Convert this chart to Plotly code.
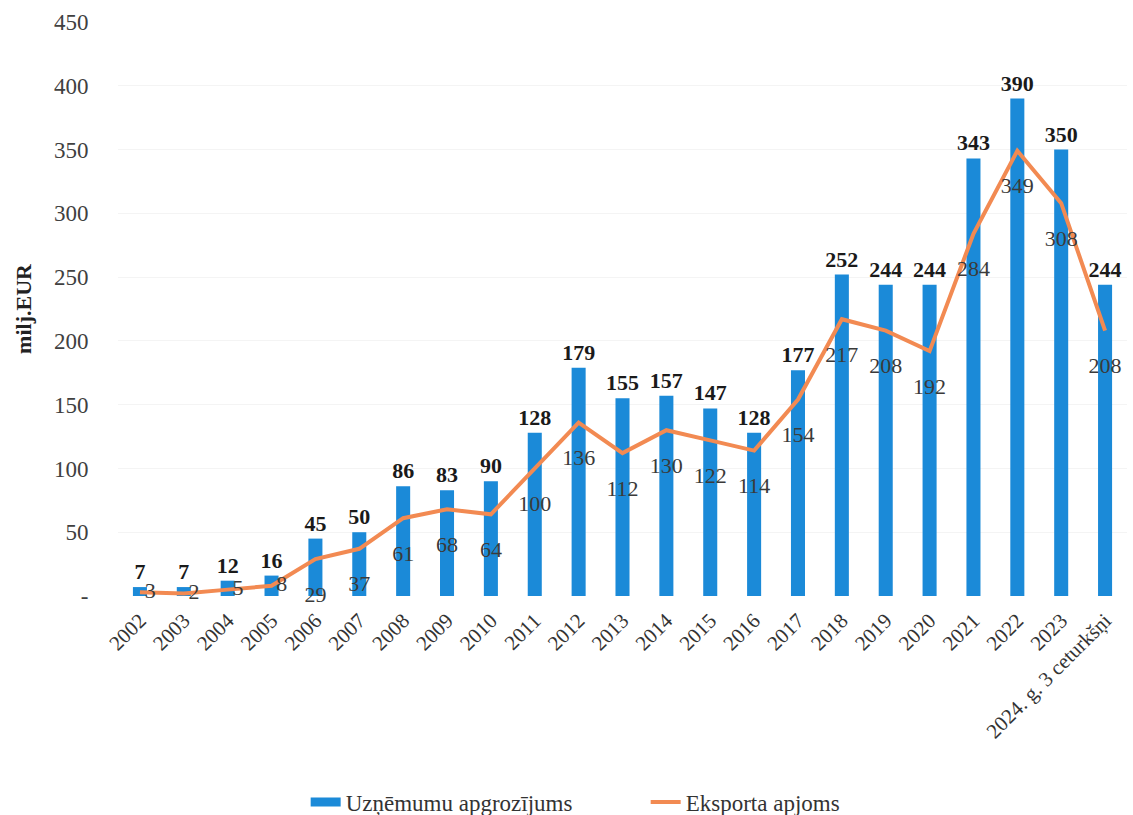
import plotly.graph_objects as go

categories = ["2002", "2003", "2004", "2005", "2006", "2007", "2008", "2009", "2010",
              "2011", "2012", "2013", "2014", "2015", "2016", "2017", "2018", "2019",
              "2020", "2021", "2022", "2023", "2024. g. 3 ceturkšņi"]
turnover = [7, 7, 12, 16, 45, 50, 86, 83, 90, 128, 179, 155, 157, 147, 128, 177,
            252, 244, 244, 343, 390, 350, 244]
exports = [3, 2, 5, 8, 29, 37, 61, 68, 64, 100, 136, 112, 130, 122, 114, 154,
           217, 208, 192, 284, 349, 308, 208]
y_ticks = [0, 50, 100, 150, 200, 250, 300, 350, 400, 450]
y_tick_labels = ["-", "50", "100", "150", "200", "250", "300", "350", "400", "450"]

FONT = "Liberation Serif"
BAR_COLOR = "#1B8AD8"
LINE_COLOR = "#F28A52"

# labels of very small values sit beside the point (clamped to the plot area)
label_pos = ["middle right" if v < 10 else "bottom center" for v in exports]
label_pad = [6 if v < 10 else 40 for v in exports]

fig = go.Figure()
fig.add_trace(go.Bar(
    x=categories, y=turnover, name="Uzņēmumu apgrozījums", showlegend=False,
    legendgroup="bars",
    marker=dict(color=BAR_COLOR, line=dict(width=0)),
    width=0.32,
    text=[str(v) for v in turnover], textposition="outside",
    textfont=dict(family=FONT, size=22, color="#1a1a1a", weight="bold"),
    constraintext="none",
    cliponaxis=False,
))
# legend entry for the bars (wide bar-shaped key as in the reference)
fig.add_trace(go.Scatter(
    x=[None], y=[None], name="Uzņēmumu apgrozījums", mode="lines", legendgroup="bars",
    line=dict(color=BAR_COLOR, width=9),
))
fig.add_trace(go.Scatter(
    x=categories, y=exports, name="Eksporta apjoms", mode="lines",
    line=dict(color=LINE_COLOR, width=4),
))
fig.add_trace(go.Scatter(
    x=categories, y=exports, mode="markers+text", showlegend=False,
    marker=dict(size=label_pad, color="rgba(0,0,0,0)", line=dict(width=0, color="rgba(0,0,0,0)")),
    text=[str(v) for v in exports], textposition=label_pos,
    textfont=dict(family=FONT, size=22, color="#3a3a3a"),
    cliponaxis=False, hoverinfo="skip",
))

fig.update_layout(
    width=1133, height=815,
    margin=dict(l=118, r=6, t=22, b=219, autoexpand=False),
    paper_bgcolor="white", plot_bgcolor="white",
    font=dict(family=FONT, size=22, color="#333333"),
    showlegend=True,
    legend=dict(orientation="h", x=0.186, xanchor="left", y=-0.359, yanchor="middle",
                font=dict(family=FONT, size=23, color="#333333"),
                entrywidth=295, tracegroupgap=0),
)
fig.update_xaxes(
    type="category", range=[-0.5, 22.5], tickangle=-45, showgrid=False, showline=False,
    automargin=False,
    tickfont=dict(family=FONT, size=21, color="#333333"),
    ticks="outside", ticklen=3, tickcolor="rgba(0,0,0,0)",
)
fig.update_yaxes(
    range=[0, 450], tickvals=y_ticks, ticktext=y_tick_labels, automargin=False,
    showgrid=True, gridcolor="#f4f4f4", gridwidth=1, zeroline=False, showline=False,
    tickfont=dict(family=FONT, size=23, color="#404040"),
    ticks="outside", ticklen=24, tickcolor="rgba(0,0,0,0)",
    title=dict(text="<b>milj.EUR</b>", font=dict(family=FONT, size=22, color="#222222"), standoff=16),
)

fig.write_html("out.html", config={"displayModeBar": False},
               post_script="document.body.style.margin='0';")
